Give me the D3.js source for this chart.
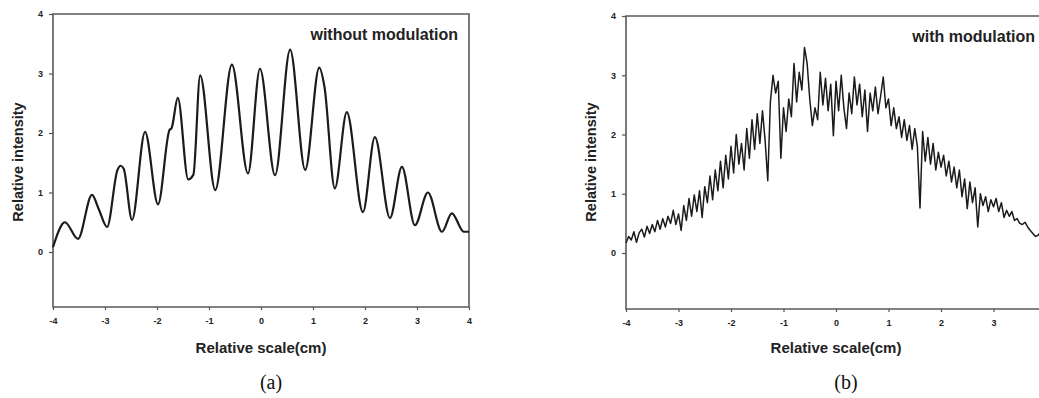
<!DOCTYPE html>
<html>
<head>
<meta charset="utf-8">
<script src="https://cdn.jsdelivr.net/npm/d3@7"></script>
<style>
  body { margin: 0; background: #fff; }
  svg { display: block; }
</style>
</head>
<body>
<svg id="chart" width="1039" height="398"></svg>
<script>
const width = 1039;

// tick values shared by both panels
const xTicks = [-4, -3, -2, -1, 0, 1, 2, 3, 4];
const yTicks = [0, 1, 2, 3, 4];

// (a) without modulation: fringe peaks / troughs
const unmodulated = [
  [-4.00, 0.08], [-3.77, 0.50], [-3.52, 0.22], [-3.25, 0.96], [-3.12, 0.72],
  [-2.96, 0.42], [-2.76, 1.38], [-2.70, 1.45], [-2.64, 1.40], [-2.48, 0.54],
  [-2.23, 2.02], [-1.98, 0.80], [-1.76, 2.05], [-1.72, 2.08], [-1.60, 2.59],
  [-1.40, 1.22], [-1.30, 1.30], [-1.17, 2.97], [-0.88, 1.04], [-0.56, 3.15],
  [-0.25, 1.32], [-0.02, 3.08], [0.27, 1.29], [0.56, 3.40], [0.85, 1.38],
  [1.12, 3.10], [1.22, 2.78], [1.42, 1.07], [1.65, 2.35], [1.96, 0.67],
  [2.19, 1.93], [2.48, 0.57], [2.71, 1.43], [2.96, 0.45], [3.21, 1.00],
  [3.48, 0.34], [3.67, 0.65], [3.90, 0.34], [4.00, 0.34]
];

// (b) with modulation: sampled every 0.05 cm from -4 to 4
const modulatedStep = 0.05;
const modulated = [
  0.17, 0.28, 0.22, 0.36, 0.18, 0.34, 0.40, 0.27, 0.45, 0.33,
  0.48, 0.36, 0.55, 0.40, 0.58, 0.44, 0.62, 0.50, 0.72, 0.48,
  0.66,
  0.38, 0.80, 0.55, 0.92, 0.62, 0.98, 0.70, 1.05, 0.60, 1.12,
  0.85, 1.30, 0.90, 1.40, 1.05, 1.55, 1.10, 1.65, 1.25, 1.80,
  1.35, 2.00, 1.50, 1.85, 1.40, 2.10, 1.60, 2.25, 1.75, 2.35,
  1.85, 2.40, 1.90, 1.22, 2.55, 3.00, 2.70, 2.90, 1.60, 2.45,
  2.05, 2.60, 2.30, 3.20, 2.55, 3.05, 2.75, 3.47, 3.20, 2.60,
  2.15, 2.45, 2.25, 3.05, 2.50, 2.95, 2.40, 2.85, 1.98, 2.90,
  2.40, 3.00, 2.45, 2.10, 2.70, 2.35, 2.97, 2.50, 2.85, 2.30,
  2.75, 2.05, 2.70, 2.40, 2.80, 2.35, 2.65, 2.97, 2.45, 2.60,
  2.15, 2.45, 2.10, 2.30, 1.95, 2.25, 1.90, 2.15, 1.75, 2.10,
  1.80, 0.76, 2.05, 1.55, 1.95, 1.50, 1.85, 1.40, 1.70, 1.45,
  1.65, 1.30, 1.55, 1.20, 1.45, 1.10, 1.40, 0.95, 1.25, 0.75,
  1.20, 0.85, 1.10, 0.44, 1.00, 0.80, 0.95, 0.70, 0.90, 0.78,
  0.92, 0.70, 0.85, 0.60, 0.72, 0.62, 0.70, 0.55, 0.58, 0.50,
  0.48, 0.52, 0.44, 0.38, 0.33, 0.28, 0.30, 0.36, 0.40, 0.38
];

const svg = d3.select('#chart');
const sans = 'Arial, "Liberation Sans", sans-serif';

function drawPanel(opts) {
  const x = d3.scaleLinear().domain([-4, 4]).range([opts.left, opts.right]);
  const y = d3.scaleLinear().domain([0, 4]).range([opts.zeroY, opts.top]);
  const bottom = opts.bottom;
  const g = svg.append('g');

  // frame
  g.append('path')
    .attr('d', `M${opts.left},${opts.top}H${opts.right}V${bottom}H${opts.left}Z`)
    .attr('fill', 'none')
    .attr('stroke', '#5a5a5a')
    .attr('stroke-width', 1.6);

  // plain hyphen minus like the original
  const fmt = d => String(d);

  const xAxis = g.append('g')
    .attr('transform', `translate(0,${bottom})`)
    .call(d3.axisBottom(x)
      .tickValues(xTicks.filter(t => x(t) < width - 4))
      .tickSize(3).tickPadding(8).tickFormat(fmt));
  const yAxis = g.append('g')
    .attr('transform', `translate(${opts.left},0)`)
    .call(d3.axisLeft(y).tickValues(yTicks).tickSize(4).tickPadding(6).tickFormat(fmt));

  [xAxis, yAxis].forEach(a => {
    a.select('.domain').remove();
    a.selectAll('line').attr('stroke', '#555').attr('stroke-width', 1.2);
    a.selectAll('text')
      .attr('fill', '#222')
      .style('font-family', sans)
      .style('font-size', '9px')
      .style('font-weight', 'bold');
  });

  const line = d3.line()
    .x(d => x(d[0]))
    .y(d => y(d[1]))
    .curve(opts.curve);

  g.append('path')
    .datum(opts.data)
    .attr('d', line)
    .attr('fill', 'none')
    .attr('stroke', '#1b1b1b')
    .attr('stroke-width', opts.lineWidth)
    .attr('stroke-linejoin', 'round');

  // annotation in the upper right
  g.append('text')
    .attr('x', opts.right - 11)
    .attr('y', opts.top + 26)
    .attr('text-anchor', 'end')
    .text(opts.note)
    .style('font-family', sans)
    .style('font-size', '16px')
    .style('font-weight', 'bold')
    .attr('fill', '#222');

  // axis titles
  g.append('text')
    .attr('x', x(0))
    .attr('y', 353)
    .attr('text-anchor', 'middle')
    .text('Relative scale(cm)')
    .style('font-family', sans)
    .style('font-size', '15px')
    .style('font-weight', 'bold')
    .attr('fill', '#222');

  g.append('text')
    .attr('transform', `translate(${opts.left - 30},162) rotate(-90)`)
    .attr('text-anchor', 'middle')
    .text('Relative intensity')
    .style('font-family', sans)
    .style('font-size', '14.5px')
    .style('font-weight', 'bold')
    .attr('fill', '#222');

  // panel label
  g.append('text')
    .attr('x', x(0) + 10)
    .attr('y', 389)
    .attr('text-anchor', 'middle')
    .text(opts.label)
    .style('font-family', '"Liberation Serif", "Times New Roman", serif')
    .style('font-size', '20px')
    .attr('fill', '#111');
}

drawPanel({
  left: 53, right: 469, top: 14, zeroY: 252, bottom: 307,
  data: unmodulated, curve: d3.curveMonotoneX, lineWidth: 2.2,
  note: 'without modulation', label: '(a)'
});

drawPanel({
  left: 626, right: 1046, top: 16, zeroY: 253, bottom: 309,
  data: modulated.map((v, i) => [-4 + i * modulatedStep, v]),
  curve: d3.curveLinear, lineWidth: 1.5,
  note: 'with modulation', label: '(b)'
});
</script>
</body>
</html>
